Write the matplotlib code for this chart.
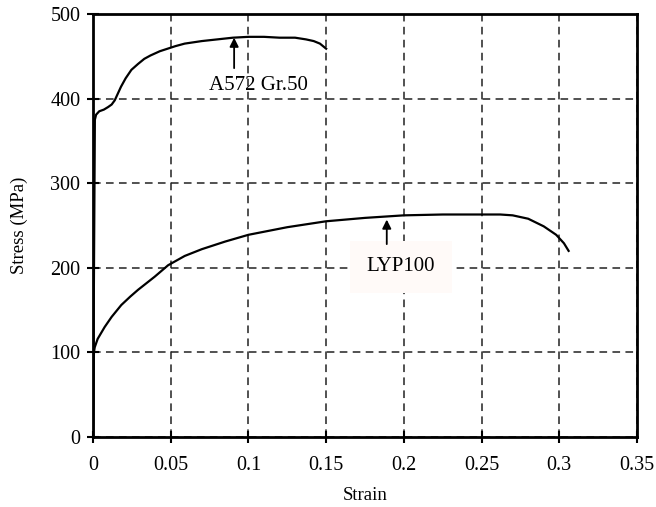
import matplotlib
matplotlib.use("Agg")
import matplotlib.pyplot as plt

# Engineering stress-strain curves
a572_strain = [0, 0.0012, 0.002, 0.004, 0.007, 0.0097, 0.012, 0.014, 0.016, 0.018,
               0.021, 0.0247, 0.029, 0.033, 0.037, 0.043, 0.048, 0.053, 0.059, 0.07,
               0.08, 0.09, 0.10, 0.11, 0.12, 0.13, 0.137, 0.142, 0.146, 0.15]
a572_stress = [0, 375, 381, 385, 387, 390, 393, 398, 406, 414,
               424, 434, 441, 447, 451, 456, 459, 462, 465, 468,
               470, 472, 473, 473, 472, 472, 470, 468, 465, 459]

lyp_strain = [0, 0.0006, 0.0011, 0.003, 0.0075, 0.012, 0.0182, 0.024, 0.029, 0.0397,
              0.0483, 0.059, 0.07, 0.085, 0.10, 0.125, 0.15, 0.175, 0.20, 0.225,
              0.25, 0.262, 0.27, 0.28, 0.29, 0.298, 0.303, 0.306]
lyp_stress = [0, 100, 106, 116, 130, 142, 156, 166, 174, 189.5,
              203, 214, 222, 231, 239, 248, 255, 259, 262, 263,
              263, 263, 262, 258, 249, 239, 229, 220]

x_ticks = [0, 0.05, 0.1, 0.15, 0.2, 0.25, 0.3, 0.35]
x_tick_labels = ["0", "0.05", "0.1", "0.15", "0.2", "0.25", "0.3", "0.35"]
y_ticks = [0, 100, 200, 300, 400, 500]

plt.rcParams["font.family"] = ["Liberation Serif", "DejaVu Serif"]

fig = plt.figure(figsize=(6.56, 5.07), dpi=100)
ax = fig.add_axes([93 / 656, 1 - 437 / 507, 544 / 656, 423 / 507])

ax.plot(a572_strain, a572_stress, color="black", lw=1.6, zorder=3)
ax.plot(lyp_strain, lyp_stress, color="black", lw=1.6, zorder=3)

ax.set_xlim(0, 0.35)
ax.set_ylim(0, 500)
ax.set_xticks(x_ticks)
ax.set_xticklabels(x_tick_labels)
ax.set_yticks(y_ticks)

ax.grid(True, color="#222222", linestyle=(0, (5, 3.5)), lw=1.1)
ax.set_axisbelow(True)
for sp in ax.spines.values():
    sp.set_linewidth(2)
ax.tick_params(direction="inout", length=8, width=1.5, labelsize=14.5)
ax.tick_params(axis="x", pad=10)
ax.tick_params(axis="y", pad=5)

ax.set_xlabel("Strain", fontsize=13.5, labelpad=8)
ax.set_ylabel("Stress (MPa)", fontsize=13.5, labelpad=16)

arrow = dict(arrowstyle="-|>", color="black", lw=1.3,
             shrinkA=0, shrinkB=0, mutation_scale=13)

# A572 Gr.50 label with a vertical pointer
ax.text(0.1065, 416, "A572 Gr.50", ha="center", va="center", fontsize=15)
ax.annotate("", xy=(0.0908, 472), xytext=(0.0908, 436), arrowprops=arrow)

# LYP100 label on a light box that hides the grid behind it
ax.text(0.198, 201, "LYP100", ha="center", va="center", fontsize=15,
        bbox=dict(boxstyle="square,pad=0.8", fc="#fffaf8", ec="none"), zorder=4)
ax.annotate("", xy=(0.189, 257), xytext=(0.189, 228), arrowprops=arrow, zorder=5)

fig.savefig("out.png", dpi=100)
